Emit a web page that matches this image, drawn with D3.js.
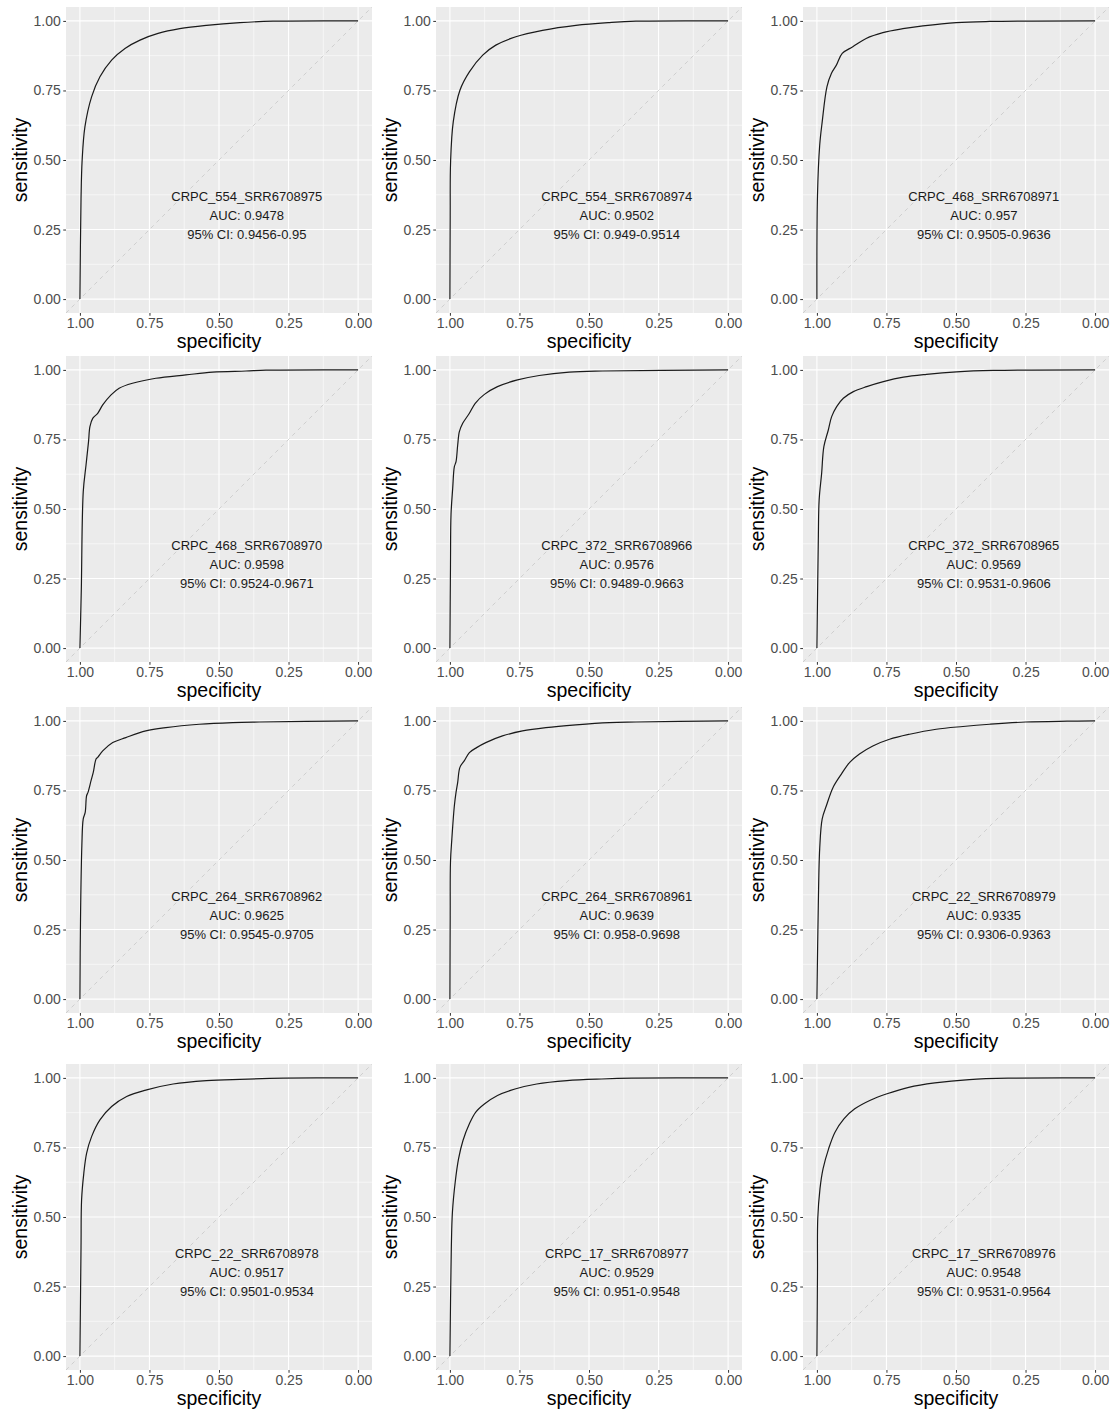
<!DOCTYPE html>
<html>
<head>
<meta charset="utf-8">
<script src="https://cdn.jsdelivr.net/npm/d3@7"></script>
<style>
  body { margin: 0; background: #fff; }
  svg { display: block; font-family: "Liberation Sans", Arial, sans-serif; }
</style>
</head>
<body>
<div id="chart"></div>
<script>
// panel labels, in reading order
const sampleNames = ["CRPC_554_SRR6708975", "CRPC_554_SRR6708974", "CRPC_468_SRR6708971",
                     "CRPC_468_SRR6708970", "CRPC_372_SRR6708966", "CRPC_372_SRR6708965",
                     "CRPC_264_SRR6708962", "CRPC_264_SRR6708961", "CRPC_22_SRR6708979",
                     "CRPC_22_SRR6708978", "CRPC_17_SRR6708977", "CRPC_17_SRR6708976"];
const aucValues = [0.9478, 0.9502, 0.957, 0.9598, 0.9576, 0.9569, 0.9625, 0.9639, 0.9335, 0.9517, 0.9529, 0.9548];
const ciLow  = [0.9456, 0.949, 0.9505, 0.9524, 0.9489, 0.9531, 0.9545, 0.958, 0.9306, 0.9501, 0.951, 0.9531];
const ciHigh = [0.95, 0.9514, 0.9636, 0.9671, 0.9663, 0.9606, 0.9705, 0.9698, 0.9363, 0.9534, 0.9548, 0.9564];

const axisTicks = [0, 0.25, 0.5, 0.75, 1];

// ROC points: [specificity, sensitivity]
const roc554_75 = [[1,0],[0.996,0.36],[0.992,0.499],[0.982,0.619],[0.958,0.727],[0.928,0.799],[0.886,0.859],
  [0.838,0.901],[0.784,0.931],[0.719,0.955],[0.641,0.972],[0.545,0.984],[0.425,0.994],[0.305,0.999],[0,1]];
const roc554_74 = [[1,0],[0.999,0.3],[0.9976,0.493],[0.988,0.637],[0.964,0.751],[0.930,0.817],[0.882,0.877],
  [0.835,0.913],[0.763,0.943],[0.667,0.966],[0.547,0.984],[0.427,0.994],[0.331,0.999],[0,1]];
const roc468_71 = [[1,0],[0.998,0.37],[0.990,0.553],[0.981,0.637],[0.964,0.763],[0.948,0.811],[0.930,0.841],
  [0.909,0.883],[0.871,0.907],[0.823,0.937],[0.763,0.958],[0.691,0.972],[0.619,0.982],[0.499,0.994],[0.379,0.998],[0,1]];
const roc468_70 = [[1,0],[0.995,0.21],[0.988,0.562],[0.978,0.658],[0.969,0.742],[0.964,0.796],[0.954,0.826],
  [0.936,0.844],[0.918,0.874],[0.888,0.910],[0.859,0.934],[0.811,0.952],[0.727,0.970],[0.619,0.982],
  [0.523,0.992],[0.403,0.996],[0.331,0.999],[0,1]];
const roc372_66 = [[1,0],[0.998,0.3],[0.996,0.481],[0.990,0.574],[0.984,0.652],[0.978,0.670],[0.972,0.730],
  [0.966,0.778],[0.954,0.808],[0.930,0.844],[0.909,0.880],[0.876,0.912],[0.829,0.940],[0.757,0.964],
  [0.679,0.980],[0.571,0.992],[0.451,0.996],[0,1]];
const roc372_65 = [[1,0],[0.995,0.388],[0.992,0.532],[0.983,0.628],[0.975,0.724],[0.959,0.784],[0.947,0.832],
  [0.929,0.868],[0.905,0.898],[0.869,0.922],[0.821,0.940],[0.761,0.958],[0.689,0.974],[0.606,0.984],
  [0.498,0.993],[0.366,0.998],[0,1]];
const roc264_62 = [[1,0],[0.998,0.277],[0.993,0.552],[0.988,0.648],[0.981,0.671],[0.976,0.731],[0.971,0.743],
  [0.960,0.785],[0.952,0.815],[0.942,0.863],[0.936,0.869],[0.918,0.892],[0.882,0.922],[0.835,0.940],
  [0.763,0.964],[0.691,0.976],[0.571,0.988],[0.451,0.994],[0.355,0.996],[0,1]];
const roc264_61 = [[1,0],[0.999,0.3],[0.998,0.492],[0.993,0.576],[0.984,0.695],[0.978,0.743],[0.972,0.779],
  [0.964,0.833],[0.948,0.857],[0.930,0.886],[0.904,0.904],[0.871,0.922],[0.811,0.946],[0.739,0.964],
  [0.655,0.976],[0.547,0.986],[0.427,0.994],[0.331,0.996],[0,1]];
const roc22_79 = [[1,0],[0.995,0.337],[0.990,0.540],[0.981,0.648],[0.966,0.695],[0.942,0.761],[0.912,0.809],
  [0.882,0.851],[0.847,0.881],[0.799,0.910],[0.739,0.934],[0.667,0.952],[0.571,0.970],[0.475,0.980],
  [0.379,0.988],[0.25,0.996],[0.1,0.999],[0,1]];
const roc22_78 = [[1,0],[0.996,0.393],[0.994,0.561],[0.986,0.657],[0.976,0.729],[0.958,0.789],[0.928,0.849],
  [0.886,0.897],[0.832,0.933],[0.760,0.957],[0.665,0.978],[0.545,0.990],[0.425,0.995],[0.269,0.999],[0,1]];
const roc17_77 = [[1,0],[0.995,0.386],[0.991,0.517],[0.981,0.625],[0.969,0.709],[0.953,0.775],[0.930,0.835],
  [0.907,0.877],[0.875,0.907],[0.829,0.937],[0.766,0.960],[0.688,0.978],[0.579,0.990],[0.455,0.996],[0.346,0.999],[0,1]];
const roc17_76 = [[1,0],[0.998,0.3],[0.997,0.493],[0.989,0.601],[0.978,0.673],[0.958,0.745],[0.935,0.805],
  [0.903,0.853],[0.864,0.889],[0.810,0.919],[0.748,0.943],[0.670,0.966],[0.576,0.982],[0.452,0.994],[0.312,0.999],[0,1]];

const curves = [roc554_75, roc554_74, roc468_71, roc468_70, roc372_66, roc372_65,
                roc264_62, roc264_61, roc22_79, roc22_78, roc17_77, roc17_76];

const W = 1115, H = 1412;
const colLeft = [66, 436, 803];
const rowTop = [7, 356, 707, 1064];
const pw = 306, ph = 306;

const svg = d3.select("#chart").append("svg")
    .attr("width", W).attr("height", H);
svg.append("rect").attr("width", W).attr("height", H).attr("fill", "#fff");

const x = d3.scaleLinear().domain([1.05, -0.05]).range([0, pw]);
const y = d3.scaleLinear().domain([-0.05, 1.05]).range([ph, 0]);
const fmt = d3.format(".2f");
const minorTicks = [0.125, 0.375, 0.625, 0.875];

const line = d3.line()
    .x(d => x(d[0]))
    .y(d => y(d[1]))
    .curve(d3.curveCatmullRom.alpha(0.5));

svg.append("defs").append("clipPath").attr("id", "clip")
  .append("rect").attr("width", pw).attr("height", ph);

sampleNames.forEach((name, i) => {
    const col = i % 3, row = Math.floor(i / 3);
    const g = svg.append("g")
        .attr("transform", `translate(${colLeft[col]},${rowTop[row]})`);

    g.append("rect").attr("width", pw).attr("height", ph).attr("fill", "#EBEBEB");

    // grid
    const grid = g.append("g");
    grid.selectAll(".vminor").data(minorTicks).join("line")
        .attr("x1", d => x(d)).attr("x2", d => x(d)).attr("y1", 0).attr("y2", ph)
        .attr("stroke", "#fff").attr("stroke-width", 0.55);
    grid.selectAll(".hminor").data(minorTicks).join("line")
        .attr("y1", d => y(d)).attr("y2", d => y(d)).attr("x1", 0).attr("x2", pw)
        .attr("stroke", "#fff").attr("stroke-width", 0.55);
    grid.selectAll(".vmajor").data(axisTicks).join("line")
        .attr("x1", d => x(d)).attr("x2", d => x(d)).attr("y1", 0).attr("y2", ph)
        .attr("stroke", "#fff").attr("stroke-width", 1.1);
    grid.selectAll(".hmajor").data(axisTicks).join("line")
        .attr("y1", d => y(d)).attr("y2", d => y(d)).attr("x1", 0).attr("x2", pw)
        .attr("stroke", "#fff").attr("stroke-width", 1.1);

    const plot = g.append("g").attr("clip-path", "url(#clip)");
    // chance line
    plot.append("line")
        .attr("x1", x(1.05)).attr("y1", y(-0.05))
        .attr("x2", x(-0.05)).attr("y2", y(1.05))
        .attr("stroke", "#C8C8C8").attr("stroke-width", 0.8)
        .attr("stroke-dasharray", "4,4");

    plot.append("path")
        .datum(curves[i])
        .attr("d", line)
        .attr("fill", "none")
        .attr("stroke", "#1a1a1a")
        .attr("stroke-width", 1.2);

    // annotation
    const lines = [name, "AUC: " + aucValues[i], "95% CI: " + ciLow[i] + "-" + ciHigh[i]];
    g.append("g").selectAll("text").data(lines).join("text")
        .attr("x", x(0.4))
        .attr("y", (d, k) => y(0.3) + (k - 1) * 19)
        .attr("dy", "0.35em")
        .attr("text-anchor", "middle")
        .attr("font-size", 13)
        .attr("fill", "#1a1a1a")
        .text(d => d);

    // axes
    const ax = g.append("g").attr("transform", `translate(0,${ph})`)
        .call(d3.axisBottom(x).tickValues(axisTicks).tickFormat(fmt).tickSize(2.75).tickPadding(2.5));
    const ay = g.append("g")
        .call(d3.axisLeft(y).tickValues(axisTicks).tickFormat(fmt).tickSize(2.75).tickPadding(2.5));
    [ax, ay].forEach(a => {
        a.select(".domain").remove();
        a.selectAll(".tick line").attr("stroke", "#333");
        a.selectAll(".tick text").attr("fill", "#4D4D4D").attr("font-size", 14)
            .attr("font-family", "Liberation Sans, Arial, sans-serif");
    });

    g.append("text")
        .attr("x", pw / 2).attr("y", ph + 35)
        .attr("text-anchor", "middle")
        .attr("font-size", 19.5)
        .attr("fill", "#000")
        .text("specificity");
    g.append("text")
        .attr("transform", `translate(-39,${ph / 2}) rotate(-90)`)
        .attr("text-anchor", "middle")
        .attr("font-size", 19.5)
        .attr("fill", "#000")
        .text("sensitivity");
});
</script>
</body>
</html>
